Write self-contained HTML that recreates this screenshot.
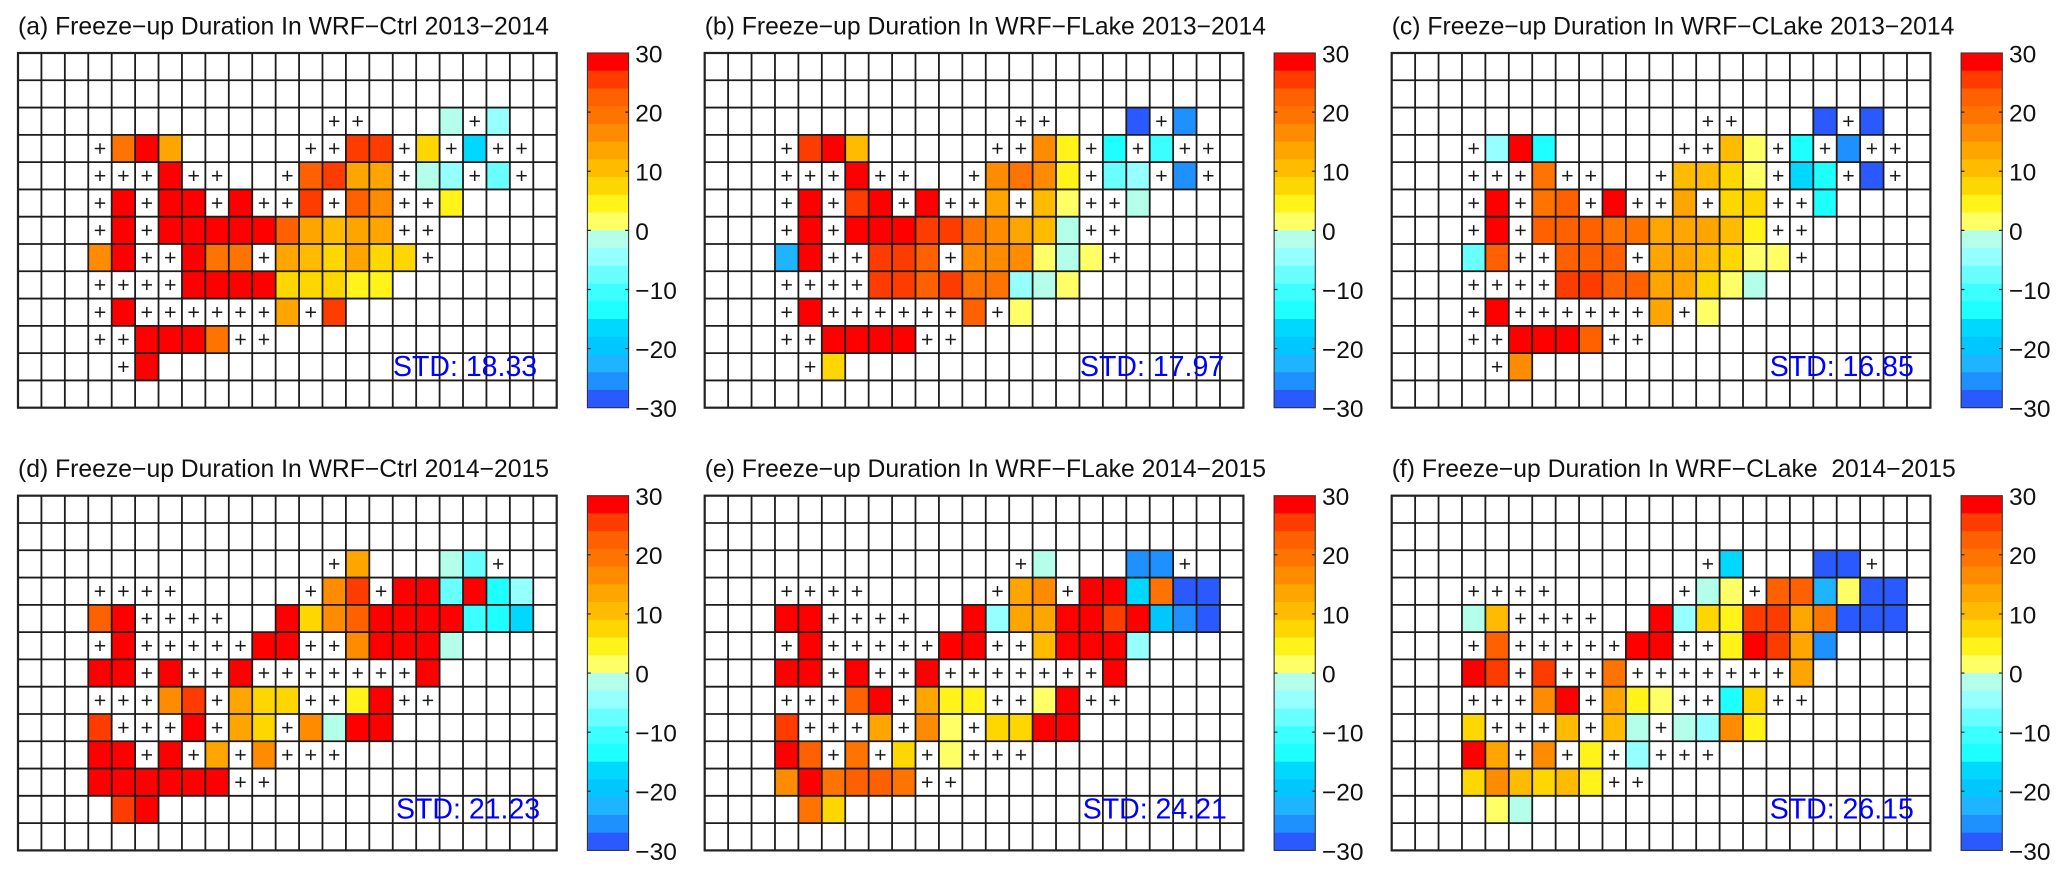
<!DOCTYPE html>
<html lang="en">
<head>
<meta charset="utf-8">
<title>Freeze-up Duration</title>
<style>
html,body{margin:0;padding:0;background:#fff;}
svg{display:block;font-family:"Liberation Sans",Arial,sans-serif;}
.title{font-size:24.72px;fill:#111;white-space:pre;}
.std{font-size:28.5px;fill:#0000ff;}
.tick{font-size:24.5px;fill:#111;}
</style>
</head>
<body>
<svg id="chart" xmlns="http://www.w3.org/2000/svg" width="2067" height="878" viewBox="0 0 2067 878">
  <g class="panel" id="panel-a" transform="translate(18 53)">
    <g class="marks"></g>
    <text class="title" x="0" y="-18.5">(a) Freeze−up Duration In WRF−Ctrl 2013−2014</text>
    <text class="std" x="375" y="323">STD: 18.33</text>
  </g>
  <g class="panel" id="panel-b" transform="translate(704.7 53)">
    <g class="marks"></g>
    <text class="title" x="0" y="-18.5">(b) Freeze−up Duration In WRF−FLake 2013−2014</text>
    <text class="std" x="375.3" y="323">STD: 17.97</text>
  </g>
  <g class="panel" id="panel-c" transform="translate(1391.7 53)">
    <g class="marks"></g>
    <text class="title" x="0" y="-18.5">(c) Freeze−up Duration In WRF−CLake 2013−2014</text>
    <text class="std" x="378" y="323">STD: 16.85</text>
  </g>
  <g class="panel" id="panel-d" transform="translate(18 495.7)">
    <g class="marks"></g>
    <text class="title" x="0" y="-18.5">(d) Freeze−up Duration In WRF−Ctrl 2014−2015</text>
    <text class="std" x="378" y="323">STD: 21.23</text>
  </g>
  <g class="panel" id="panel-e" transform="translate(704.7 495.7)">
    <g class="marks"></g>
    <text class="title" x="0" y="-18.5">(e) Freeze−up Duration In WRF−FLake 2014−2015</text>
    <text class="std" x="378" y="323">STD: 24.21</text>
  </g>
  <g class="panel" id="panel-f" transform="translate(1391.7 495.7)">
    <g class="marks"></g>
    <text class="title" x="0" y="-18.5" xml:space="preserve">(f) Freeze−up Duration In WRF−CLake  2014−2015</text>
    <text class="std" x="378" y="323">STD: 26.15</text>
  </g>
</svg>
<script>
const _ = null;
const p = 'plus';

// Colorbar levels, top band to bottom band
const colorbarMax = 30;
const colorbarMin = -30;
const colorbarTicks = [30, 20, 10, 0, -10, -20, -30];
const colorbarBands = ['#ff0000','#ff3c00','#ff6000','#ff7400','#ff8c00','#ffa500','#ffbb00','#ffd700','#fff31a','#ffff66',
                       '#b4ffea','#96ffff','#6affff','#3cffff','#1effff','#00d8ff','#00c8ff','#1eb4ff','#1e90ff','#2a5aff'];

// Freeze-up duration values; _ = no data, p = '+' marked cell
const panelA = [
  [_,_,_,_,_,_,_,_,_,_,_,_,_,_,_,_,_,_,_,_,_,_,_],
  [_,_,_,_,_,_,_,_,_,_,_,_,_,_,_,_,_,_,_,_,_,_,_],
  [_,_,_,_,_,_,_,_,_,_,_,_,_,p,p,_,_,_,-2,p,-5,_,_],
  [_,_,_,p,20,29,14,_,_,_,_,_,p,p,26,26,p,8,p,-17,p,p,_],
  [_,_,_,p,p,p,29,p,p,_,_,p,23,26,14,14,p,-2,-5,p,-8,p,_],
  [_,_,_,p,29,p,29,29,p,29,p,p,26,p,23,17,p,p,5,_,_,_,_],
  [_,_,_,p,29,p,29,29,29,29,29,23,14,11,14,14,p,p,_,_,_,_,_],
  [_,_,_,17,29,p,p,29,20,20,p,14,11,8,14,8,8,p,_,_,_,_,_],
  [_,_,_,p,p,p,p,29,29,29,29,8,8,8,5,5,_,_,_,_,_,_,_],
  [_,_,_,p,29,p,p,p,p,p,p,14,p,26,_,_,_,_,_,_,_,_,_],
  [_,_,_,p,p,29,29,29,20,p,p,_,_,_,_,_,_,_,_,_,_,_,_],
  [_,_,_,_,p,29,_,_,_,_,_,_,_,_,_,_,_,_,_,_,_,_,_],
  [_,_,_,_,_,_,_,_,_,_,_,_,_,_,_,_,_,_,_,_,_,_,_]
];
const panelB = [
  [_,_,_,_,_,_,_,_,_,_,_,_,_,_,_,_,_,_,_,_,_,_,_],
  [_,_,_,_,_,_,_,_,_,_,_,_,_,_,_,_,_,_,_,_,_,_,_],
  [_,_,_,_,_,_,_,_,_,_,_,_,_,p,p,_,_,_,-29,p,-26,_,_],
  [_,_,_,p,26,29,11,_,_,_,_,_,p,p,17,5,p,-14,p,-11,p,p,_],
  [_,_,_,p,p,p,29,p,p,_,_,p,17,20,17,5,p,-8,-5,p,-26,p,_],
  [_,_,_,p,29,p,26,29,p,29,p,p,14,p,11,2,p,p,-2,_,_,_,_],
  [_,_,_,p,29,p,29,29,29,26,26,20,17,14,11,-2,p,p,_,_,_,_,_],
  [_,_,_,-23,29,p,p,26,26,23,p,17,17,17,2,-2,2,p,_,_,_,_,_],
  [_,_,_,p,p,p,p,26,26,23,26,20,20,-5,-2,2,_,_,_,_,_,_,_],
  [_,_,_,p,29,p,p,p,p,p,p,23,p,2,_,_,_,_,_,_,_,_,_],
  [_,_,_,p,p,29,29,29,29,p,p,_,_,_,_,_,_,_,_,_,_,_,_],
  [_,_,_,_,p,8,_,_,_,_,_,_,_,_,_,_,_,_,_,_,_,_,_],
  [_,_,_,_,_,_,_,_,_,_,_,_,_,_,_,_,_,_,_,_,_,_,_]
];
const panelC = [
  [_,_,_,_,_,_,_,_,_,_,_,_,_,_,_,_,_,_,_,_,_,_,_],
  [_,_,_,_,_,_,_,_,_,_,_,_,_,_,_,_,_,_,_,_,_,_,_],
  [_,_,_,_,_,_,_,_,_,_,_,_,_,p,p,_,_,_,-29,p,-29,_,_],
  [_,_,_,p,-5,29,-14,_,_,_,_,_,p,p,11,2,p,-14,p,-26,p,p,_],
  [_,_,_,p,p,p,20,p,p,_,_,p,11,11,8,2,p,-17,-14,p,-29,p,_],
  [_,_,_,p,29,p,20,23,p,29,p,p,14,p,8,8,p,p,-14,_,_,_,_],
  [_,_,_,p,29,p,23,23,23,20,20,14,14,14,11,5,p,p,_,_,_,_,_],
  [_,_,_,-8,23,p,p,23,23,23,p,14,14,11,8,2,2,p,_,_,_,_,_],
  [_,_,_,p,p,p,p,26,26,23,23,14,14,8,2,-2,_,_,_,_,_,_,_],
  [_,_,_,p,29,p,p,p,p,p,p,14,p,2,_,_,_,_,_,_,_,_,_],
  [_,_,_,p,p,29,29,29,23,p,p,_,_,_,_,_,_,_,_,_,_,_,_],
  [_,_,_,_,p,17,_,_,_,_,_,_,_,_,_,_,_,_,_,_,_,_,_],
  [_,_,_,_,_,_,_,_,_,_,_,_,_,_,_,_,_,_,_,_,_,_,_]
];
const panelD = [
  [_,_,_,_,_,_,_,_,_,_,_,_,_,_,_,_,_,_,_,_,_,_,_],
  [_,_,_,_,_,_,_,_,_,_,_,_,_,_,_,_,_,_,_,_,_,_,_],
  [_,_,_,_,_,_,_,_,_,_,_,_,_,p,14,_,_,_,-2,-8,p,_,_],
  [_,_,_,p,p,p,p,_,_,_,_,_,p,17,26,p,29,29,-8,29,-14,-5,_],
  [_,_,_,23,29,p,p,p,p,_,_,29,8,17,23,29,29,29,29,-11,-14,-17,_],
  [_,_,_,p,29,p,p,p,p,p,29,29,p,p,17,29,29,29,-2,_,_,_,_],
  [_,_,_,29,29,p,29,p,p,29,p,p,p,p,p,p,p,29,_,_,_,_,_],
  [_,_,_,p,p,p,17,26,p,14,8,8,p,p,5,29,p,p,_,_,_,_,_],
  [_,_,_,26,p,p,p,29,p,14,8,p,17,-2,29,29,_,_,_,_,_,_,_],
  [_,_,_,29,29,p,29,p,14,p,17,p,p,p,_,_,_,_,_,_,_,_,_],
  [_,_,_,29,29,29,29,29,29,p,p,_,_,_,_,_,_,_,_,_,_,_,_],
  [_,_,_,_,26,29,_,_,_,_,_,_,_,_,_,_,_,_,_,_,_,_,_],
  [_,_,_,_,_,_,_,_,_,_,_,_,_,_,_,_,_,_,_,_,_,_,_]
];
const panelE = [
  [_,_,_,_,_,_,_,_,_,_,_,_,_,_,_,_,_,_,_,_,_,_,_],
  [_,_,_,_,_,_,_,_,_,_,_,_,_,_,_,_,_,_,_,_,_,_,_],
  [_,_,_,_,_,_,_,_,_,_,_,_,_,p,-2,_,_,_,-26,-26,p,_,_],
  [_,_,_,p,p,p,p,_,_,_,_,_,p,14,17,p,29,29,-17,20,-29,-29,_],
  [_,_,_,29,29,p,p,p,p,_,_,29,-5,14,14,29,29,26,29,-20,-26,-29,_],
  [_,_,_,p,29,p,p,p,p,p,29,29,p,p,11,29,29,29,-5,_,_,_,_],
  [_,_,_,29,29,p,29,p,p,29,p,p,p,p,p,p,p,29,_,_,_,_,_],
  [_,_,_,p,p,p,23,29,p,14,5,5,p,p,2,29,p,p,_,_,_,_,_],
  [_,_,_,26,p,p,p,14,p,17,2,p,8,8,29,29,_,_,_,_,_,_,_],
  [_,_,_,29,23,p,20,p,8,p,2,p,p,p,_,_,_,_,_,_,_,_,_],
  [_,_,_,17,29,20,23,23,20,p,p,_,_,_,_,_,_,_,_,_,_,_,_],
  [_,_,_,_,20,8,_,_,_,_,_,_,_,_,_,_,_,_,_,_,_,_,_],
  [_,_,_,_,_,_,_,_,_,_,_,_,_,_,_,_,_,_,_,_,_,_,_]
];
const panelF = [
  [_,_,_,_,_,_,_,_,_,_,_,_,_,_,_,_,_,_,_,_,_,_,_],
  [_,_,_,_,_,_,_,_,_,_,_,_,_,_,_,_,_,_,_,_,_,_,_],
  [_,_,_,_,_,_,_,_,_,_,_,_,_,p,-17,_,_,_,-29,-29,p,_,_],
  [_,_,_,p,p,p,p,_,_,_,_,_,p,-2,2,p,23,23,-23,2,-29,-29,_],
  [_,_,_,-2,11,p,p,p,p,_,_,29,-5,8,5,26,26,14,20,-29,-29,-29,_],
  [_,_,_,p,23,p,p,p,p,p,29,29,p,p,5,29,26,14,-26,_,_,_,_],
  [_,_,_,29,26,p,26,p,p,20,p,p,p,p,p,p,p,14,_,_,_,_,_],
  [_,_,_,p,p,p,17,29,p,14,5,2,p,p,-14,8,p,p,_,_,_,_,_],
  [_,_,_,8,p,p,p,11,p,11,-2,p,-2,-5,17,5,_,_,_,_,_,_,_],
  [_,_,_,29,14,p,17,p,5,p,-5,p,p,p,_,_,_,_,_,_,_,_,_],
  [_,_,_,8,17,11,8,11,5,p,p,_,_,_,_,_,_,_,_,_,_,_,_],
  [_,_,_,_,2,-2,_,_,_,_,_,_,_,_,_,_,_,_,_,_,_,_,_],
  [_,_,_,_,_,_,_,_,_,_,_,_,_,_,_,_,_,_,_,_,_,_,_]
];
const panelIds = ['a', 'b', 'c', 'd', 'e', 'f'];
const panelValues = [panelA, panelB, panelC, panelD, panelE, panelF];

// Layout
const plotW = 538.7, plotH = 354.7;
const barX = 569.4, barW = 41.2, labelX = 617.3;
const NS = 'http://www.w3.org/2000/svg';

function mk(tag, attrs, parent) {
  const el = document.createElementNS(NS, tag);
  for (const k in attrs) el.setAttribute(k, attrs[k]);
  parent.appendChild(el);
  return el;
}
function colorFor(v) {
  const n = colorbarBands.length;
  const i = Math.floor((colorbarMax - v) / (colorbarMax - colorbarMin) * n);
  return colorbarBands[Math.max(0, Math.min(n - 1, i))];
}
const barY = v => (colorbarMax - v) / (colorbarMax - colorbarMin) * plotH;

function drawPanel(id, grid) {
  const root = document.querySelector('#panel-' + id + ' .marks');
  const nRows = grid.length, nCols = grid[0].length;
  const x = c => c / nCols * plotW;
  const y = r => r / nRows * plotH;

  // filled cells
  grid.forEach((row, r) => row.forEach((v, c) => {
    if (typeof v !== 'number') return;
    const cell = mk('rect', {x: x(c), y: y(r), width: x(1), height: y(1), fill: colorFor(v)}, root);
    
    
  }));

  // grid lines
  const gridGroup = mk('g', {stroke: '#1c1c1c', 'stroke-width': 1.8}, root);
  
  
  for (let c = 1; c < nCols; c++) mk('line', {x1: x(c), x2: x(c), y1: 0, y2: plotH}, gridGroup);
  for (let r = 1; r < nRows; r++) mk('line', {x1: 0, x2: plotW, y1: y(r), y2: y(r)}, gridGroup);
  const frame = mk('rect', {x: 0, y: 0, width: plotW, height: plotH, fill: 'none', stroke: '#222', 'stroke-width': 2.2}, root);
  
  

  // '+' markers
  grid.forEach((row, r) => row.forEach((v, c) => {
    if (v !== p) return;
    const cx = x(c + 0.5), cy = y(r + 0.5);
    const plus = mk('path', {d: 'M' + (cx - 5.2) + ' ' + cy + 'H' + (cx + 5.2) + 'M' + cx + ' ' + (cy - 5.2) + 'V' + (cy + 5.2),
                             stroke: '#1a1a1a', 'stroke-width': 1.5, fill: 'none'}, root);
    
    
  }));

  // colorbar
  const bar = mk('g', {}, root);
  
  
  const step = (colorbarMax - colorbarMin) / colorbarBands.length;
  colorbarBands.forEach((col, i) => {
    const band = mk('rect', {x: barX, y: barY(colorbarMax - i * step), width: barW,
                             height: barY(colorbarMax - (i + 1) * step) - barY(colorbarMax - i * step) + 0.3, fill: col}, bar);
    
    
  });
  mk('rect', {x: barX, y: 0, width: barW, height: plotH, fill: 'none', stroke: '#333', 'stroke-width': 1.1}, bar);
  colorbarTicks.forEach(t => {
    const ty = barY(t);
    if (t !== colorbarMax && t !== colorbarMin) {
      mk('path', {d: 'M' + barX + ' ' + ty + 'h3.4M' + (barX + barW) + ' ' + ty + 'h-3.4', stroke: '#222', 'stroke-width': 1.2}, bar);
    }
    const label = mk('text', {class: 'tick', x: labelX, y: ty + 9.4}, bar);
    label.textContent = String(t).replace('-', '\u2212');
    
    
  });
}
panelIds.forEach((id, i) => drawPanel(id, panelValues[i]));
</script>
</body>
</html>
